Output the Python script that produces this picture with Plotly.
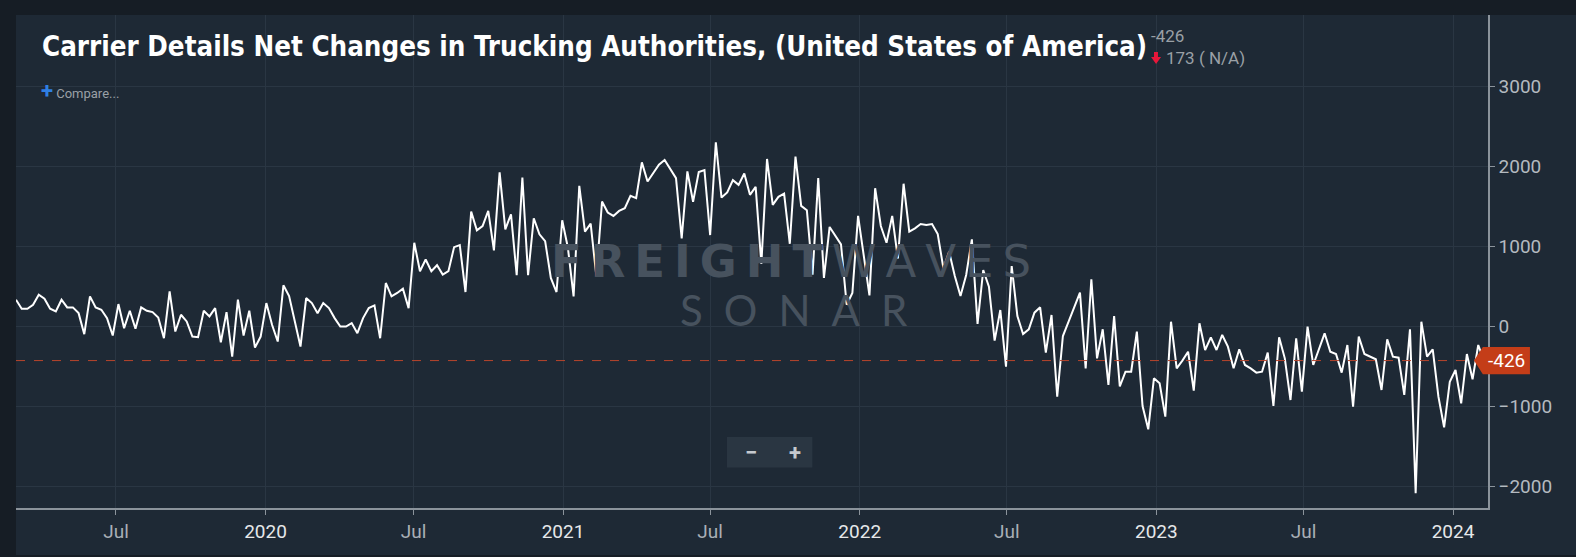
import pandas as pd
import plotly.graph_objects as go

# weekly net change in trucking authorities
values_2019 = [335, 222, 222, 272, 398, 348, 222, 188, 335, 239, 239, 167, -96, 377, 239, 209,
               105, -113, 280, -21, 197, -29, 239, 197, 180, 113, -147, 440, -63, 147, 63, -126,
               -134, 197, 126, 230, -197, 180, -377, 335, -113, 197, -264, -126, 293, 21]
values_2020 = [-188, 515, 380, 80, -251, 356, 293, 167, 293, 230, 105, 0, 0, 42, -84, 105,
               230, 264, -147, 544, 377, 419, 473, 230, 1047, 691, 838, 691, 766, 649, 691, 992,
               1018, 431, 1436, 1202, 1256, 1445]
values_2021a = [951, 1926, 1214, 1403, 641, 1863, 641, 1353, 1152, 1068, 607, 431, 1328, 984, 377,
                1759, 1185, 1285, 628, 1562, 1424, 1382, 1445, 1478, 1633, 1604, 2052, 1813, 1926,
                2023, 2081, 1968, 1855, 1101, 1939, 1560, 1930]
values_2021b = [1956, 1143, 2303, 1612, 1675, 1830, 1771, 1913, 1646, 1746, 783, 2094, 1520, 1621,
                1662, 1034, 2123, 1508, 1453, 649, 1855, 607, 1244, 1131, 1026, 272, 419, 1382, 900,
                389, 1729, 1256, 1047, 1382, 850, 1785]
values_2022 = [1185, 1227, 1281, 1269, 1281, 1156, 727, 935, 631, 381, 644, 1090, 31, 706, 498,
               -177, 206, -502, 756, 131, -94, -35, 173, 240, -327, 144, -877, -119, 60, 240, 423,
               -523, 590, -398, -35, -731, 131]
values_2023 = [-750, -565, -565, -65, -994, -1285, -648, -710, -1127, 60, -523, -427, -315, -802, 40,
               -294, -135, -294, -106, -252, -523, -285, -481, -523, -577, -565, -327, -994, -135,
               -398, -919, -148, -815, -2, -481, -294, -85, -315]
values_2024 = [-344, -577, -231, -1002, -127, -344, -377, -410, -794, -160, -377, -390, -856, -35,
               -2085, 60, -377, -285, -877, -1260, -690, -544, -960, -344, -660, -231, -426]

values = values_2019 + values_2020 + values_2021a + values_2021b + values_2022 + values_2023 + values_2024
dates = pd.date_range("2019-02-28", periods=len(values), freq="7D")

last_value = -426
change_text = "173 ( N/A)"

tick_dates = ["2019-07-01", "2020-01-01", "2020-07-01", "2021-01-01", "2021-07-01",
              "2022-01-01", "2022-07-01", "2023-01-01", "2023-07-01", "2024-01-01"]
tick_labels = ["Jul", "2020", "Jul", "2021", "Jul", "2022", "Jul", "2023", "Jul", "2024"]
y_ticks = [-2000, -1000, 0, 1000, 2000, 3000]

PANEL = "#1e2935"
OUTER = "#161d25"
GRID = "#2a3643"
AXIS = "#8b939b"
MARK = "#47525e"

tick_text = []
for t in tick_labels:
    col = "#a9afb5" if t == "Jul" else "#e6e8ea"
    tick_text.append(f"<span style='color:{col}'>{t}</span>")

fig = go.Figure()
fig.add_trace(go.Scatter(x=dates, y=values, mode="lines",
                         line=dict(color="white", width=2), hoverinfo="x+y"))

fig.update_layout(
    width=1576, height=557,
    margin=dict(l=16, r=88, t=15, b=49),
    paper_bgcolor=PANEL, plot_bgcolor=PANEL,
    showlegend=False,
    font=dict(family="Roboto, sans-serif", color="#b4bac0", size=19),
)
fig.update_xaxes(range=["2019-02-28", "2024-02-13"], tickvals=tick_dates, ticktext=tick_text,
                 showgrid=True, gridcolor=GRID, gridwidth=1, zeroline=False,
                 showline=True, linecolor=AXIS, linewidth=1.5,
                 ticks="outside", ticklen=5, tickcolor=AXIS, tickfont=dict(size=19))
fig.update_yaxes(range=[-2269, 3894], side="right", tickvals=y_ticks,
                 showgrid=True, gridcolor=GRID, gridwidth=1, zeroline=False,
                 showline=True, linecolor=AXIS, linewidth=1.5,
                 ticks="outside", ticklen=5, tickcolor=AXIS, tickfont=dict(size=19))

# dashed last-value line
fig.add_hline(y=last_value, line=dict(color="#b8452c", width=1, dash="dash"))

# dark outer frame strips
fig.add_shape(type="rect", xref="paper", yref="paper", x0=-0.02, x1=1.07, y0=1.0, y1=1.04,
              fillcolor=OUTER, line_width=0, layer="above")
fig.add_shape(type="rect", xref="paper", yref="paper", x0=-0.02, x1=0.0, y0=-0.11, y1=1.04,
              fillcolor=OUTER, line_width=0, layer="above")
fig.add_shape(type="rect", xref="paper", yref="paper", x0=-0.02, x1=1.07, y0=-0.11, y1=-0.0955,
              fillcolor=OUTER, line_width=0, layer="above")

# last value tag
tag_h = 170
fig.add_shape(type="path", xref="paper", yref="y",
              path=(f"M 0.9905,{last_value} L 0.9965,{last_value + tag_h} L 1.0285,{last_value + tag_h} "
                    f"L 1.0285,{last_value - tag_h} L 0.9965,{last_value - tag_h} Z"),
              fillcolor="#c43d18", line_width=0, layer="above")
fig.add_annotation(xref="paper", yref="y", x=1.0125, y=last_value, text=str(last_value),
                   showarrow=False, font=dict(color="white", size=19), xanchor="center")

# watermark
fig.add_annotation(xref="paper", yref="paper", x=0.5265, y=0.499,
                   text="<b>F\u2009R\u2009E\u2009I\u2009G\u2009H\u2009T</b>\u2009W\u2009A\u2009V\u2009E\u2009S",
                   showarrow=False,
                   font=dict(family="DejaVu Sans, sans-serif", size=45, color=MARK))
fig.add_annotation(xref="paper", yref="paper", x=0.5285, y=0.402,
                   text="S\u2002O\u2002N\u2002A\u2002R", showarrow=False,
                   font=dict(family="Lato, sans-serif", size=42, color=MARK))

# header texts
fig.add_annotation(xref="paper", yref="paper", x=0.0163, y=0.937, xanchor="left", yanchor="middle",
                   text="<b>Carrier Details Net Changes in Trucking Authorities, (United States of America)</b>",
                   showarrow=False,
                   font=dict(family="Liberation Sans Narrow, DejaVu Sans Condensed, sans-serif",
                             size=27.5, color="white"))
fig.add_annotation(xref="paper", yref="paper", x=0.770, y=0.958, xanchor="left", yanchor="middle",
                   text=str(last_value), showarrow=False, font=dict(size=17, color="#9aa0a6"))
fig.add_annotation(xref="paper", yref="paper", x=0.7799, y=0.913, xanchor="left", yanchor="middle",
                   text=change_text, showarrow=False, font=dict(size=17, color="#9aa0a6"))
# red down arrow before the change value
fig.add_shape(type="path", xref="paper", yref="paper",
              path=("M 0.7731,0.9249 L 0.7758,0.9249 L 0.7758,0.9148 L 0.7779,0.9148 "
                    "L 0.7745,0.9006 L 0.7711,0.9148 L 0.7731,0.9148 Z"),
              fillcolor="#e8173a", line_width=0, layer="above")
fig.add_annotation(xref="paper", yref="paper", x=0.0153, y=0.846, xanchor="left", yanchor="middle",
                   text="<span style='color:#2f7fe3;font-size:22px'><b>+</b></span> Compare...",
                   showarrow=False, font=dict(size=13, color="#9aa0a6"))

# zoom buttons
fig.add_shape(type="rect", xref="paper", yref="paper", x0=0.483, x1=0.541, y0=0.082, y1=0.144,
              fillcolor="#2a3642", line_width=0, layer="above")
fig.add_annotation(xref="paper", yref="paper", x=0.4995, y=0.113, yanchor="middle", text="<b>−</b>",
                   showarrow=False, font=dict(size=22, color="#c5cacf"))
fig.add_annotation(xref="paper", yref="paper", x=0.5292, y=0.113, yanchor="middle", text="<b>+</b>",
                   showarrow=False, font=dict(size=22, color="#c5cacf"))

fig.write_html("out.html", config={"displayModeBar": False},
               post_script="document.body.style.margin='0';document.body.style.background='#161d25';")
